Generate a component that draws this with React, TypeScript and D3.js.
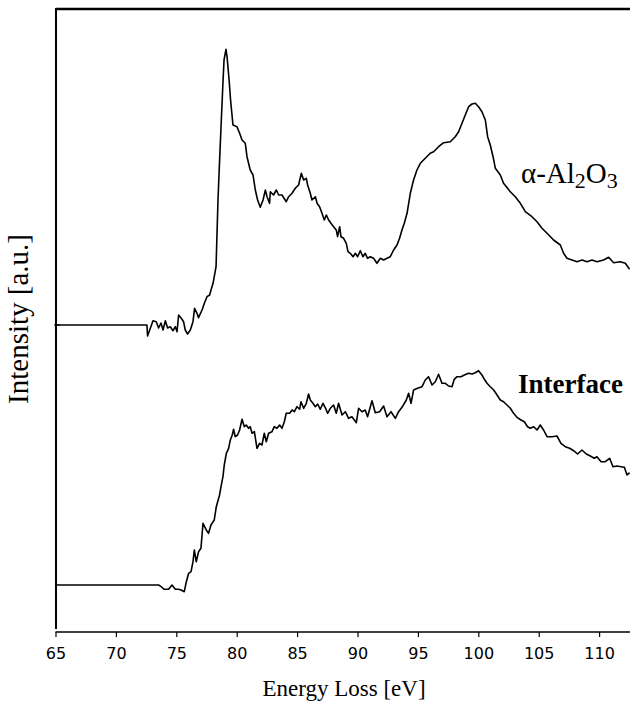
import React from "react";
import * as d3 from "d3";

// energy loss (eV), intensity (a.u.)
const aluminaSpectrum: [number, number][] = [
  [65.0, 307], [72.53, 307], [72.58, 296], [73.03, 311.3], [73.3, 310.3], [73.49, 304],
  [73.69, 309], [73.86, 302], [74.05, 311.3], [74.24, 304], [74.46, 305.3], [74.69, 301.3],
  [74.88, 305.3], [75.02, 300.3], [75.15, 317], [75.43, 312.7], [75.56, 310.3], [75.7, 302],
  [75.89, 298], [76.12, 302], [76.34, 310.3], [76.47, 323.7], [76.67, 318.7], [76.8, 314.3],
  [77.09, 322], [77.28, 328.7], [77.5, 335.3], [77.72, 337], [77.83, 342], [78.0, 348.7],
  [78.1, 355.3], [78.25, 365.3], [78.33, 399], [78.41, 432], [78.52, 465], [78.66, 505],
  [78.82, 549], [78.91, 572], [79.07, 582.7], [79.16, 575.3], [79.35, 549], [79.45, 532],
  [79.65, 507], [79.98, 505.3], [80.2, 498.7], [80.4, 492], [80.67, 488.7], [80.81, 475.3],
  [81.08, 462], [81.31, 457], [81.5, 442], [81.69, 432], [81.91, 424.7], [82.14, 432],
  [82.33, 442], [82.47, 435.3], [82.68, 428.7], [82.74, 440.3], [83.01, 437], [83.24, 442],
  [83.43, 437], [83.71, 437], [84.06, 430.3], [84.26, 435.3], [84.54, 438.7], [84.81, 443.7],
  [85.08, 447], [85.31, 458.7], [85.5, 452], [85.72, 453.7], [85.83, 447], [86.05, 438.7],
  [86.19, 432], [86.47, 435.3], [86.61, 428.7], [86.82, 425.3], [87.02, 418.7], [87.21, 412],
  [87.38, 417], [87.57, 412], [87.76, 408.7], [87.98, 405.3], [88.2, 402], [88.31, 395.3],
  [88.48, 405.3], [88.59, 395.3], [88.81, 393.7], [89.03, 388.7], [89.17, 380.3], [89.36, 378.7],
  [89.59, 375.3], [89.78, 378.7], [89.97, 375.3], [90.19, 381.3], [90.41, 375.3], [90.6, 378.7],
  [90.79, 373.7], [91.02, 375.3], [91.29, 373.7], [91.57, 368.7], [91.85, 373.7], [92.12, 372],
  [92.4, 373.7], [92.67, 375.3], [92.95, 382], [93.23, 387], [93.44, 393.7], [93.64, 402],
  [93.83, 408.7], [94.06, 418.7], [94.33, 438.7], [94.6, 452], [94.88, 462], [95.16, 468.7],
  [95.57, 473.7], [95.98, 478.7], [96.26, 480.3], [96.67, 485.3], [97.09, 489.3], [97.64, 490.3],
  [98.05, 495.3], [98.33, 500.3], [98.61, 508.7], [98.88, 517], [99.16, 525.3], [99.44, 528],
  [99.71, 528.7], [99.98, 525.3], [100.26, 520.3], [100.54, 512], [100.73, 495.3], [100.95, 487],
  [101.18, 475.3], [101.37, 463.7], [101.78, 457], [102.05, 448.7], [102.61, 440.3], [103.02, 435.3],
  [103.44, 428.7], [103.85, 420.3], [104.4, 415.3], [104.82, 410.3], [105.23, 403.7], [105.65, 398.7],
  [106.19, 392], [106.75, 387], [107.02, 378.7], [107.3, 373.7], [107.72, 372], [108.13, 370.3],
  [108.54, 372], [108.96, 370.3], [109.37, 372], [109.79, 370.3], [110.33, 372], [110.75, 374.7],
  [111.16, 369.3], [111.71, 370.3], [112.13, 368.7], [112.48, 362.7],
];

const interfaceSpectrum: [number, number][] = [
  [65.0, 47], [73.49, 47], [73.63, 46], [73.97, 42.7], [74.32, 42.7], [74.6, 47],
  [74.88, 42.7], [75.15, 42.7], [75.35, 42], [75.62, 40.3], [75.79, 50.3], [75.98, 58.7],
  [76.18, 60.3], [76.34, 70.3], [76.45, 82], [76.61, 70.3], [76.8, 80.3], [77.0, 83.7],
  [77.17, 108.7], [77.44, 102], [77.63, 98.7], [77.83, 107], [78.1, 112], [78.27, 125.3],
  [78.54, 137], [78.66, 145.3], [78.82, 155.3], [78.93, 167], [79.1, 178.7], [79.29, 183.7],
  [79.43, 192], [79.59, 197], [79.7, 202.7], [79.84, 195.3], [80.03, 197], [80.2, 202],
  [80.4, 212.7], [80.59, 205.3], [80.75, 207], [80.94, 203.7], [81.08, 205.3], [81.23, 198.7],
  [81.42, 200.3], [81.64, 183.7], [81.85, 188.7], [82.05, 187], [82.24, 198.7], [82.41, 190.3],
  [82.6, 198.7], [82.88, 200.3], [83.07, 205.3], [83.29, 203.7], [83.51, 207], [83.71, 203.7],
  [83.9, 210.3], [84.06, 218.7], [84.34, 218.7], [84.54, 222], [84.73, 220.3], [84.95, 225.3],
  [85.17, 222.7], [85.28, 230.3], [85.5, 223.7], [85.72, 228.7], [85.91, 238], [86.05, 232],
  [86.27, 228.7], [86.47, 225.3], [86.66, 228], [86.88, 222.7], [87.1, 228.7], [87.32, 223.7],
  [87.48, 218.7], [87.71, 223.7], [87.98, 227], [88.2, 218.7], [88.39, 228.7], [88.68, 217],
  [88.95, 220.3], [89.22, 213.7], [89.5, 215.3], [89.86, 209.3], [90.05, 223.7], [90.33, 220.3],
  [90.6, 222], [90.79, 215.3], [91.16, 231.3], [91.43, 219.3], [91.79, 220.3], [92.12, 226],
  [92.4, 215.3], [92.73, 220.3], [93.09, 213.7], [93.36, 220.3], [93.64, 224.7], [94.0, 232],
  [94.19, 238.7], [94.39, 228.7], [94.6, 242], [94.93, 243.7], [95.3, 245.3], [95.57, 252],
  [95.84, 255.3], [96.13, 247], [96.4, 250.3], [96.67, 257.7], [96.95, 248.7], [97.23, 248.7],
  [97.5, 246], [97.78, 245.3], [97.97, 252.7], [98.2, 255.3], [98.53, 255.3], [98.8, 257],
  [99.16, 258.7], [99.44, 258], [99.71, 259.3], [99.98, 261.3], [100.26, 257], [100.46, 252.7],
  [100.68, 248.7], [100.95, 245.3], [101.23, 242], [101.51, 237], [101.78, 232], [102.05, 230.3],
  [102.33, 227], [102.61, 223.7], [102.88, 218.7], [103.16, 214.7], [103.49, 212], [103.77, 210.3],
  [104.04, 205.3], [104.26, 203.7], [104.54, 205.3], [104.82, 202], [105.09, 207], [105.36, 202],
  [105.65, 195.3], [106.06, 195.3], [106.47, 196], [106.8, 188.7], [107.16, 185.3], [107.52, 183.7],
  [107.85, 181.3], [108.18, 178], [108.54, 182], [108.9, 178], [109.23, 176], [109.56, 173.7],
  [109.78, 175.3], [110.12, 170.3], [110.47, 170.3], [110.83, 173.7], [111.11, 165.3], [111.44, 166],
  [111.77, 165.3], [112.05, 164.7], [112.27, 157], [112.48, 159.3],
];

const xTicks = [65, 70, 75, 80, 85, 90, 95, 100, 105, 110];

const width = 630;
const height = 702;
const plot = { left: 56, right: 630, top: 9, bottom: 632 };

const App = () => {
  const xScale = d3
    .scaleLinear()
    .domain([65, 112.5])
    .range([plot.left, plot.left + 47.5 * 12.08]);

  const yScale = d3.scaleLinear().domain([0, 623]).range([plot.bottom, plot.top]);

  const line = d3
    .line<[number, number]>()
    .x((d) => xScale(d[0]))
    .y((d) => yScale(d[1]));

  const serif = "'Liberation Serif', 'Times New Roman', serif";

  return (
    <svg
      width={width}
      height={height}
      style={{ position: "absolute", left: 0, top: 0, background: "#fff" }}
    >
      <defs>
        <clipPath id="plotClip">
          <rect x={plot.left} y={plot.top} width={plot.right - plot.left} height={plot.bottom - plot.top} />
        </clipPath>
      </defs>

      {/* frame: thick top, left axis, bottom axis */}
      <line x1={plot.left} x2={plot.right} y1={plot.top} y2={plot.top} stroke="#000" strokeWidth={2.6} />
      <line x1={plot.left} x2={plot.left} y1={plot.top - 1} y2={629} stroke="#000" strokeWidth={2} />
      <line x1={plot.left - 0.5} x2={plot.right} y1={plot.bottom} y2={plot.bottom} stroke="#000" strokeWidth={1.4} />
      <line
        x1={plot.left - 2}
        x2={plot.left + 4}
        y1={yScale(aluminaSpectrum[0][1])}
        y2={yScale(aluminaSpectrum[0][1])}
        stroke="#000"
        strokeWidth={1}
      />

      <g clipPath="url(#plotClip)" fill="none" stroke="#000" strokeWidth={1.6} strokeLinejoin="round">
        <path d={line(aluminaSpectrum) || ""} />
        <path d={line(interfaceSpectrum) || ""} />
      </g>

      <g>
        {xTicks.map((t) => (
          <g key={t} transform={`translate(${xScale(t)},${plot.bottom})`}>
            <line y1={0} y2={5} stroke="#000" strokeWidth={1.2} />
            <text
              y={27}
              textAnchor="middle"
              fontFamily="'DejaVu Sans', Verdana, sans-serif"
              fontSize={16}
              fill="#000"
            >
              {t}
            </text>
          </g>
        ))}
      </g>

      <text x={344} y={696} textAnchor="middle" fontFamily={serif} fontSize={23} fill="#000">
        Energy Loss [eV]
      </text>
      <text
        transform="translate(28,319) rotate(-90)"
        textAnchor="middle"
        fontFamily={serif}
        fontSize={29}
        fill="#000"
      >
        Intensity [a.u.]
      </text>

      <text x={521} y={183} fontFamily={serif} fontSize={29} fill="#000">
        α-Al<tspan fontSize={22} dy={5}>2</tspan>
        <tspan dy={-5}>O</tspan>
        <tspan fontSize={22} dy={5}>3</tspan>
      </text>
      <text x={518} y={393} fontFamily={serif} fontSize={27} fontWeight="bold" fill="#000">
        Interface
      </text>
    </svg>
  );
};

export default App;
